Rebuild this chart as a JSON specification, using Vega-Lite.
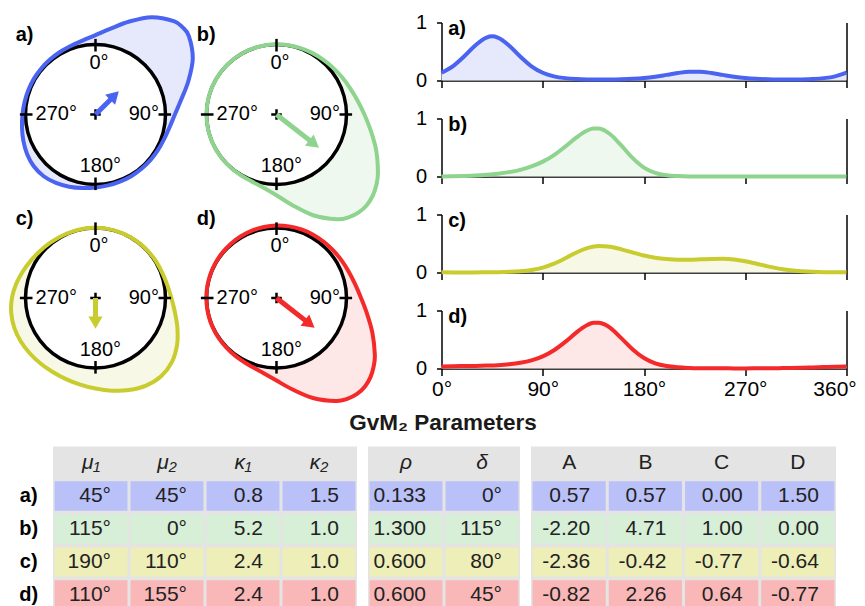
{
"$schema": "https://vega.github.io/schema/vega-lite/v6.json",
"background": "white",
"padding": {"left": 3, "top": 8.5, "right": 0, "bottom": 0},
"config": {
  "font": "Liberation Sans",
  "view": {"stroke": null},
  "axis": {"grid": false, "domainColor": "black", "tickColor": "black", "labelColor": "black", "labelFont": "Liberation Sans", "labelFlush": false}
},
"datasets": {
  "curves": [
    {"p":"a","t":0,"f":0.134,"x":0,"y":1.134},{"p":"a","t":10,"f":0.245,"x":0.216,"y":1.226},{"p":"a","t":20,"f":0.413,"x":0.483,"y":1.328},{"p":"a","t":30,"f":0.605,"x":0.803,"y":1.39},{"p":"a","t":40,"f":0.741,"x":1.119,"y":1.334},{"p":"a","t":45,"f":0.761,"x":1.245,"y":1.245},{"p":"a","t":50,"f":0.741,"x":1.334,"y":1.119},{"p":"a","t":60,"f":0.605,"x":1.39,"y":0.803},{"p":"a","t":70,"f":0.413,"x":1.328,"y":0.483},{"p":"a","t":80,"f":0.245,"x":1.226,"y":0.216},{"p":"a","t":90,"f":0.134,"x":1.134,"y":0},{"p":"a","t":100,"f":0.072,"x":1.056,"y":-0.186},{"p":"a","t":110,"f":0.041,"x":0.978,"y":-0.356},{"p":"a","t":120,"f":0.026,"x":0.889,"y":-0.513},{"p":"a","t":130,"f":0.019,"x":0.781,"y":-0.655},{"p":"a","t":140,"f":0.016,"x":0.653,"y":-0.778},{"p":"a","t":150,"f":0.017,"x":0.509,"y":-0.881},{"p":"a","t":160,"f":0.021,"x":0.349,"y":-0.959},{"p":"a","t":170,"f":0.029,"x":0.179,"y":-1.013},{"p":"a","t":180,"f":0.043,"x":0,"y":-1.043},{"p":"a","t":190,"f":0.066,"x":-0.185,"y":-1.05},{"p":"a","t":200,"f":0.097,"x":-0.375,"y":-1.031},{"p":"a","t":210,"f":0.129,"x":-0.565,"y":-0.978},{"p":"a","t":220,"f":0.151,"x":-0.74,"y":-0.882},{"p":"a","t":230,"f":0.151,"x":-0.882,"y":-0.74},{"p":"a","t":240,"f":0.129,"x":-0.978,"y":-0.565},{"p":"a","t":250,"f":0.097,"x":-1.031,"y":-0.375},{"p":"a","t":260,"f":0.066,"x":-1.05,"y":-0.185},{"p":"a","t":270,"f":0.043,"x":-1.043,"y":0},{"p":"a","t":280,"f":0.029,"x":-1.013,"y":0.179},{"p":"a","t":290,"f":0.021,"x":-0.959,"y":0.349},{"p":"a","t":300,"f":0.017,"x":-0.881,"y":0.509},{"p":"a","t":310,"f":0.016,"x":-0.778,"y":0.653},{"p":"a","t":320,"f":0.019,"x":-0.655,"y":0.781},{"p":"a","t":330,"f":0.026,"x":-0.513,"y":0.889},{"p":"a","t":340,"f":0.041,"x":-0.356,"y":0.978},{"p":"a","t":350,"f":0.072,"x":-0.186,"y":1.056},{"p":"a","t":360,"f":0.134,"x":0,"y":1.134},
    {"p":"b","t":0,"f":0.002,"x":0,"y":1.002},{"p":"b","t":10,"f":0.004,"x":0.174,"y":0.989},{"p":"b","t":20,"f":0.009,"x":0.345,"y":0.948},{"p":"b","t":30,"f":0.016,"x":0.508,"y":0.88},{"p":"b","t":40,"f":0.029,"x":0.661,"y":0.788},{"p":"b","t":50,"f":0.047,"x":0.802,"y":0.673},{"p":"b","t":60,"f":0.075,"x":0.931,"y":0.538},{"p":"b","t":70,"f":0.115,"x":1.048,"y":0.381},{"p":"b","t":80,"f":0.173,"x":1.155,"y":0.204},{"p":"b","t":90,"f":0.256,"x":1.256,"y":0},{"p":"b","t":100,"f":0.37,"x":1.349,"y":-0.238},{"p":"b","t":110,"f":0.516,"x":1.425,"y":-0.518},{"p":"b","t":120,"f":0.673,"x":1.449,"y":-0.837},{"p":"b","t":125,"f":0.743,"x":1.428,"y":-1.0},{"p":"b","t":130,"f":0.797,"x":1.377,"y":-1.155},{"p":"b","t":135,"f":0.827,"x":1.292,"y":-1.292},{"p":"b","t":140,"f":0.827,"x":1.174,"y":-1.399},{"p":"b","t":145,"f":0.794,"x":1.029,"y":-1.47},{"p":"b","t":150,"f":0.729,"x":0.865,"y":-1.497},{"p":"b","t":160,"f":0.531,"x":0.524,"y":-1.439},{"p":"b","t":170,"f":0.316,"x":0.228,"y":-1.296},{"p":"b","t":180,"f":0.153,"x":0,"y":-1.153},{"p":"b","t":190,"f":0.061,"x":-0.184,"y":-1.045},{"p":"b","t":200,"f":0.021,"x":-0.349,"y":-0.959},{"p":"b","t":210,"f":0.007,"x":-0.504,"y":-0.872},{"p":"b","t":220,"f":0.002,"x":-0.644,"y":-0.768},{"p":"b","t":230,"f":0.001,"x":-0.766,"y":-0.643},{"p":"b","t":240,"f":0,"x":-0.866,"y":-0.5},{"p":"b","t":250,"f":0,"x":-0.94,"y":-0.342},{"p":"b","t":260,"f":0,"x":-0.985,"y":-0.174},{"p":"b","t":270,"f":0,"x":-1,"y":0},{"p":"b","t":280,"f":0,"x":-0.985,"y":0.174},{"p":"b","t":290,"f":0,"x":-0.94,"y":0.342},{"p":"b","t":300,"f":0,"x":-0.866,"y":0.5},{"p":"b","t":310,"f":0,"x":-0.766,"y":0.643},{"p":"b","t":320,"f":0,"x":-0.643,"y":0.766},{"p":"b","t":330,"f":0,"x":-0.5,"y":0.866},{"p":"b","t":340,"f":0,"x":-0.342,"y":0.94},{"p":"b","t":350,"f":0.001,"x":-0.174,"y":0.986},{"p":"b","t":360,"f":0.002,"x":0,"y":1.002},
    {"p":"c","t":0,"f":0.003,"x":0,"y":1.003},{"p":"c","t":10,"f":0.002,"x":0.174,"y":0.987},{"p":"c","t":20,"f":0.002,"x":0.343,"y":0.942},{"p":"c","t":30,"f":0.002,"x":0.501,"y":0.868},{"p":"c","t":40,"f":0.004,"x":0.645,"y":0.769},{"p":"c","t":50,"f":0.006,"x":0.771,"y":0.647},{"p":"c","t":60,"f":0.011,"x":0.876,"y":0.506},{"p":"c","t":70,"f":0.021,"x":0.959,"y":0.349},{"p":"c","t":80,"f":0.043,"x":1.027,"y":0.181},{"p":"c","t":90,"f":0.084,"x":1.084,"y":0},{"p":"c","t":100,"f":0.152,"x":1.134,"y":-0.2},{"p":"c","t":110,"f":0.245,"x":1.17,"y":-0.426},{"p":"c","t":120,"f":0.345,"x":1.165,"y":-0.673},{"p":"c","t":130,"f":0.424,"x":1.091,"y":-0.915},{"p":"c","t":140,"f":0.458,"x":0.937,"y":-1.117},{"p":"c","t":150,"f":0.444,"x":0.722,"y":-1.251},{"p":"c","t":160,"f":0.399,"x":0.478,"y":-1.315},{"p":"c","t":170,"f":0.344,"x":0.233,"y":-1.324},{"p":"c","t":180,"f":0.294,"x":0,"y":-1.294},{"p":"c","t":190,"f":0.256,"x":-0.218,"y":-1.237},{"p":"c","t":200,"f":0.232,"x":-0.421,"y":-1.158},{"p":"c","t":210,"f":0.221,"x":-0.611,"y":-1.057},{"p":"c","t":220,"f":0.221,"x":-0.785,"y":-0.935},{"p":"c","t":230,"f":0.227,"x":-0.94,"y":-0.789},{"p":"c","t":240,"f":0.234,"x":-1.069,"y":-0.617},{"p":"c","t":250,"f":0.235,"x":-1.161,"y":-0.422},{"p":"c","t":260,"f":0.223,"x":-1.204,"y":-0.212},{"p":"c","t":270,"f":0.194,"x":-1.194,"y":0},{"p":"c","t":280,"f":0.152,"x":-1.134,"y":0.2},{"p":"c","t":290,"f":0.106,"x":-1.039,"y":0.378},{"p":"c","t":300,"f":0.067,"x":-0.924,"y":0.534},{"p":"c","t":310,"f":0.039,"x":-0.796,"y":0.668},{"p":"c","t":320,"f":0.021,"x":-0.656,"y":0.782},{"p":"c","t":330,"f":0.011,"x":-0.506,"y":0.876},{"p":"c","t":340,"f":0.006,"x":-0.344,"y":0.945},{"p":"c","t":350,"f":0.004,"x":-0.174,"y":0.989},{"p":"c","t":360,"f":0.003,"x":0,"y":1.003},
    {"p":"d","t":0,"f":0.035,"x":0,"y":1.035},{"p":"d","t":10,"f":0.039,"x":0.18,"y":1.023},{"p":"d","t":20,"f":0.042,"x":0.356,"y":0.979},{"p":"d","t":30,"f":0.045,"x":0.523,"y":0.905},{"p":"d","t":40,"f":0.05,"x":0.675,"y":0.804},{"p":"d","t":50,"f":0.058,"x":0.81,"y":0.68},{"p":"d","t":60,"f":0.073,"x":0.929,"y":0.537},{"p":"d","t":70,"f":0.098,"x":1.032,"y":0.376},{"p":"d","t":80,"f":0.14,"x":1.123,"y":0.198},{"p":"d","t":90,"f":0.208,"x":1.208,"y":0},{"p":"d","t":100,"f":0.314,"x":1.294,"y":-0.228},{"p":"d","t":110,"f":0.458,"x":1.37,"y":-0.499},{"p":"d","t":120,"f":0.622,"x":1.405,"y":-0.811},{"p":"d","t":125,"f":0.696,"x":1.389,"y":-0.973},{"p":"d","t":130,"f":0.754,"x":1.344,"y":-1.127},{"p":"d","t":135,"f":0.787,"x":1.264,"y":-1.264},{"p":"d","t":140,"f":0.79,"x":1.151,"y":-1.371},{"p":"d","t":145,"f":0.76,"x":1.01,"y":-1.442},{"p":"d","t":150,"f":0.7,"x":0.85,"y":-1.472},{"p":"d","t":160,"f":0.52,"x":0.52,"y":-1.428},{"p":"d","t":170,"f":0.328,"x":0.231,"y":-1.308},{"p":"d","t":180,"f":0.18,"x":0,"y":-1.18},{"p":"d","t":190,"f":0.089,"x":-0.189,"y":-1.072},{"p":"d","t":200,"f":0.042,"x":-0.356,"y":-0.979},{"p":"d","t":210,"f":0.02,"x":-0.51,"y":-0.883},{"p":"d","t":220,"f":0.01,"x":-0.649,"y":-0.774},{"p":"d","t":230,"f":0.005,"x":-0.77,"y":-0.646},{"p":"d","t":240,"f":0.003,"x":-0.869,"y":-0.502},{"p":"d","t":250,"f":0.003,"x":-0.943,"y":-0.343},{"p":"d","t":260,"f":0.002,"x":-0.987,"y":-0.174},{"p":"d","t":270,"f":0.002,"x":-1.002,"y":0},{"p":"d","t":280,"f":0.003,"x":-0.988,"y":0.174},{"p":"d","t":290,"f":0.004,"x":-0.943,"y":0.343},{"p":"d","t":300,"f":0.006,"x":-0.871,"y":0.503},{"p":"d","t":310,"f":0.008,"x":-0.772,"y":0.648},{"p":"d","t":320,"f":0.012,"x":-0.651,"y":0.775},{"p":"d","t":330,"f":0.018,"x":-0.509,"y":0.882},{"p":"d","t":340,"f":0.024,"x":-0.35,"y":0.962},{"p":"d","t":350,"f":0.03,"x":-0.179,"y":1.014},{"p":"d","t":360,"f":0.035,"x":0,"y":1.035}
  ],
  "circle": [
    {"t":0,"x":0,"y":1},{"t":15,"x":0.2588,"y":0.9659},{"t":30,"x":0.5,"y":0.866},{"t":45,"x":0.7071,"y":0.7071},{"t":60,"x":0.866,"y":0.5},{"t":75,"x":0.9659,"y":0.2588},{"t":90,"x":1,"y":0},{"t":105,"x":0.9659,"y":-0.2588},{"t":120,"x":0.866,"y":-0.5},{"t":135,"x":0.7071,"y":-0.7071},{"t":150,"x":0.5,"y":-0.866},{"t":165,"x":0.2588,"y":-0.9659},{"t":180,"x":0,"y":-1},{"t":195,"x":-0.2588,"y":-0.9659},{"t":210,"x":-0.5,"y":-0.866},{"t":225,"x":-0.7071,"y":-0.7071},{"t":240,"x":-0.866,"y":-0.5},{"t":255,"x":-0.9659,"y":-0.2588},{"t":270,"x":-1,"y":0},{"t":285,"x":-0.9659,"y":0.2588},{"t":300,"x":-0.866,"y":0.5},{"t":315,"x":-0.7071,"y":0.7071},{"t":330,"x":-0.5,"y":0.866},{"t":345,"x":-0.2588,"y":0.9659}
  ],
  "ticks": [
    {"x":0,"y":0.9,"x2":0,"y2":1.08},{"x":0.9,"y":0,"x2":1.08,"y2":0},{"x":0,"y":-0.9,"x2":0,"y2":-1.08},{"x":-0.9,"y":0,"x2":-1.08,"y2":0},{"x":-0.075,"y":0,"x2":0.075,"y2":0},{"x":0,"y":-0.075,"x2":0,"y2":0.075}
  ],
  "plabs": [
    {"txt":"0°","x":0.05,"y":0.74},{"txt":"90°","x":0.69,"y":0},{"txt":"180°","x":0.07,"y":-0.74},{"txt":"270°","x":-0.56,"y":0}
  ],
  "panels": [
    {"p":"a","lab":"a)","dir":45,"x0":0,"y0":0,"x2":0.262,"y2":0.262,"hx":0.271,"hy":0.271},
    {"p":"b","lab":"b)","dir":128,"x0":0,"y0":0,"x2":0.528,"y2":-0.413,"hx":0.538,"hy":-0.421},
    {"p":"c","lab":"c)","dir":180,"x0":0,"y0":0,"x2":0,"y2":-0.34,"hx":0,"hy":-0.353},
    {"p":"d","lab":"d)","dir":128,"x0":0,"y0":0,"x2":0.465,"y2":-0.363,"hx":0.475,"hy":-0.371}
  ],
  "rowlabs": [{"row":"a","lab":"a)"},{"row":"b","lab":"b)"},{"row":"c","lab":"c)"},{"row":"d","lab":"d)"}],
  "tbl": [
    {"g":1,"row":"h","col":"m1","v":"μ₁"},{"g":1,"row":"h","col":"m2","v":"μ₂"},{"g":1,"row":"h","col":"k1","v":"κ₁"},{"g":1,"row":"h","col":"k2","v":"κ₂"},
    {"g":1,"row":"a","col":"m1","v":"45°"},{"g":1,"row":"a","col":"m2","v":"45°"},{"g":1,"row":"a","col":"k1","v":"0.8"},{"g":1,"row":"a","col":"k2","v":"1.5"},
    {"g":1,"row":"b","col":"m1","v":"115°"},{"g":1,"row":"b","col":"m2","v":"0°"},{"g":1,"row":"b","col":"k1","v":"5.2"},{"g":1,"row":"b","col":"k2","v":"1.0"},
    {"g":1,"row":"c","col":"m1","v":"190°"},{"g":1,"row":"c","col":"m2","v":"110°"},{"g":1,"row":"c","col":"k1","v":"2.4"},{"g":1,"row":"c","col":"k2","v":"1.0"},
    {"g":1,"row":"d","col":"m1","v":"110°"},{"g":1,"row":"d","col":"m2","v":"155°"},{"g":1,"row":"d","col":"k1","v":"2.4"},{"g":1,"row":"d","col":"k2","v":"1.0"},
    {"g":2,"row":"h","col":"rho","v":"ρ"},{"g":2,"row":"h","col":"del","v":"δ"},
    {"g":2,"row":"a","col":"rho","v":"0.133"},{"g":2,"row":"a","col":"del","v":"0°"},
    {"g":2,"row":"b","col":"rho","v":"1.300"},{"g":2,"row":"b","col":"del","v":"115°"},
    {"g":2,"row":"c","col":"rho","v":"0.600"},{"g":2,"row":"c","col":"del","v":"80°"},
    {"g":2,"row":"d","col":"rho","v":"0.600"},{"g":2,"row":"d","col":"del","v":"45°"},
    {"g":3,"row":"h","col":"A","v":"A"},{"g":3,"row":"h","col":"B","v":"B"},{"g":3,"row":"h","col":"C","v":"C"},{"g":3,"row":"h","col":"D","v":"D"},
    {"g":3,"row":"a","col":"A","v":"0.57"},{"g":3,"row":"a","col":"B","v":"0.57"},{"g":3,"row":"a","col":"C","v":"0.00"},{"g":3,"row":"a","col":"D","v":"1.50"},
    {"g":3,"row":"b","col":"A","v":"-2.20"},{"g":3,"row":"b","col":"B","v":"4.71"},{"g":3,"row":"b","col":"C","v":"1.00"},{"g":3,"row":"b","col":"D","v":"0.00"},
    {"g":3,"row":"c","col":"A","v":"-2.36"},{"g":3,"row":"c","col":"B","v":"-0.42"},{"g":3,"row":"c","col":"C","v":"-0.77"},{"g":3,"row":"c","col":"D","v":"-0.64"},
    {"g":3,"row":"d","col":"A","v":"-0.82"},{"g":3,"row":"d","col":"B","v":"2.26"},{"g":3,"row":"d","col":"C","v":"0.64"},{"g":3,"row":"d","col":"D","v":"-0.77"}
  ]
},
"vconcat": [
  {
    "hconcat": [
      {
        "concat": [
          {"width":175,"height":179.5,"layer":[
            {"data":{"name":"curves"},"transform":[{"filter":"datum.p=='a' && datum.t<360"}],"mark":{"type":"line","interpolate":"cardinal-closed","fill":"#e6e9fb","strokeOpacity":0},"encoding":{"x":{"field":"x","type":"quantitative","scale":{"domain":[-1.25,1.25],"nice":false,"zero":false},"axis":null},"y":{"field":"y","type":"quantitative","scale":{"domain":[-1.25,1.314],"nice":false,"zero":false},"axis":null},"order":{"field":"t","type":"quantitative"}}},
            {"data":{"name":"circle"},"mark":{"type":"line","interpolate":"cardinal-closed","fill":"white","stroke":"black","strokeWidth":3.5},"encoding":{"x":{"field":"x","type":"quantitative"},"y":{"field":"y","type":"quantitative"},"order":{"field":"t","type":"quantitative"}}},
            {"data":{"name":"curves"},"transform":[{"filter":"datum.p=='a' && datum.t<360"}],"mark":{"type":"line","interpolate":"cardinal-closed","stroke":"#4a63f0","strokeWidth":4},"encoding":{"x":{"field":"x","type":"quantitative"},"y":{"field":"y","type":"quantitative"},"order":{"field":"t","type":"quantitative"}}},
            {"data":{"name":"ticks"},"mark":{"type":"rule","color":"black","strokeWidth":2.5},"encoding":{"x":{"field":"x","type":"quantitative"},"y":{"field":"y","type":"quantitative"},"x2":{"field":"x2"},"y2":{"field":"y2"}}},
            {"data":{"name":"plabs"},"mark":{"type":"text","fontSize":20,"color":"black"},"encoding":{"x":{"field":"x","type":"quantitative"},"y":{"field":"y","type":"quantitative"},"text":{"field":"txt"}}},
            {"data":{"name":"panels"},"transform":[{"filter":"datum.p=='a'"}],"mark":{"type":"rule","color":"#4a63f0","strokeWidth":5},"encoding":{"x":{"field":"x0","type":"quantitative"},"y":{"field":"y0","type":"quantitative"},"x2":{"field":"x2"},"y2":{"field":"y2"}}},
            {"data":{"name":"panels"},"transform":[{"filter":"datum.p=='a'"}],"mark":{"type":"point","shape":"triangle-up","filled":true,"size":200,"color":"#4a63f0","opacity":1},"encoding":{"x":{"field":"hx","type":"quantitative"},"y":{"field":"hy","type":"quantitative"},"angle":{"field":"dir","type":"quantitative","scale":null}}},
            {"data":{"name":"panels"},"transform":[{"filter":"datum.p=='a'"}],"mark":{"type":"text","fontSize":20,"fontWeight":"bold","align":"left","color":"black"},"encoding":{"x":{"datum":-1.14,"type":"quantitative"},"y":{"datum":1.13,"type":"quantitative"},"text":{"field":"lab"}}}
          ]},
          {"width":175,"height":179.5,"layer":[
            {"data":{"name":"curves"},"transform":[{"filter":"datum.p=='b' && datum.t<360"}],"mark":{"type":"line","interpolate":"cardinal-closed","fill":"#eff8ef","strokeOpacity":0},"encoding":{"x":{"field":"x","type":"quantitative","scale":{"domain":[-1.25,1.25],"nice":false,"zero":false},"axis":null},"y":{"field":"y","type":"quantitative","scale":{"domain":[-1.25,1.314],"nice":false,"zero":false},"axis":null},"order":{"field":"t","type":"quantitative"}}},
            {"data":{"name":"circle"},"mark":{"type":"line","interpolate":"cardinal-closed","fill":"white","stroke":"black","strokeWidth":3.5},"encoding":{"x":{"field":"x","type":"quantitative"},"y":{"field":"y","type":"quantitative"},"order":{"field":"t","type":"quantitative"}}},
            {"data":{"name":"curves"},"transform":[{"filter":"datum.p=='b' && datum.t<360"}],"mark":{"type":"line","interpolate":"cardinal-closed","stroke":"#8ed48e","strokeWidth":4},"encoding":{"x":{"field":"x","type":"quantitative"},"y":{"field":"y","type":"quantitative"},"order":{"field":"t","type":"quantitative"}}},
            {"data":{"name":"ticks"},"mark":{"type":"rule","color":"black","strokeWidth":2.5},"encoding":{"x":{"field":"x","type":"quantitative"},"y":{"field":"y","type":"quantitative"},"x2":{"field":"x2"},"y2":{"field":"y2"}}},
            {"data":{"name":"plabs"},"mark":{"type":"text","fontSize":20,"color":"black"},"encoding":{"x":{"field":"x","type":"quantitative"},"y":{"field":"y","type":"quantitative"},"text":{"field":"txt"}}},
            {"data":{"name":"panels"},"transform":[{"filter":"datum.p=='b'"}],"mark":{"type":"rule","color":"#8ed48e","strokeWidth":5},"encoding":{"x":{"field":"x0","type":"quantitative"},"y":{"field":"y0","type":"quantitative"},"x2":{"field":"x2"},"y2":{"field":"y2"}}},
            {"data":{"name":"panels"},"transform":[{"filter":"datum.p=='b'"}],"mark":{"type":"point","shape":"triangle-up","filled":true,"size":200,"color":"#8ed48e","opacity":1},"encoding":{"x":{"field":"hx","type":"quantitative"},"y":{"field":"hy","type":"quantitative"},"angle":{"field":"dir","type":"quantitative","scale":null}}},
            {"data":{"name":"panels"},"transform":[{"filter":"datum.p=='b'"}],"mark":{"type":"text","fontSize":20,"fontWeight":"bold","align":"left","color":"black"},"encoding":{"x":{"datum":-1.14,"type":"quantitative"},"y":{"datum":1.13,"type":"quantitative"},"text":{"field":"lab"}}}
          ]},
          {"width":175,"height":179.5,"layer":[
            {"data":{"name":"curves"},"transform":[{"filter":"datum.p=='c' && datum.t<360"}],"mark":{"type":"line","interpolate":"cardinal-closed","fill":"#f7f8e6","strokeOpacity":0},"encoding":{"x":{"field":"x","type":"quantitative","scale":{"domain":[-1.25,1.25],"nice":false,"zero":false},"axis":null},"y":{"field":"y","type":"quantitative","scale":{"domain":[-1.25,1.314],"nice":false,"zero":false},"axis":null},"order":{"field":"t","type":"quantitative"}}},
            {"data":{"name":"circle"},"mark":{"type":"line","interpolate":"cardinal-closed","fill":"white","stroke":"black","strokeWidth":3.5},"encoding":{"x":{"field":"x","type":"quantitative"},"y":{"field":"y","type":"quantitative"},"order":{"field":"t","type":"quantitative"}}},
            {"data":{"name":"curves"},"transform":[{"filter":"datum.p=='c' && datum.t<360"}],"mark":{"type":"line","interpolate":"cardinal-closed","stroke":"#c8cc2e","strokeWidth":4},"encoding":{"x":{"field":"x","type":"quantitative"},"y":{"field":"y","type":"quantitative"},"order":{"field":"t","type":"quantitative"}}},
            {"data":{"name":"ticks"},"mark":{"type":"rule","color":"black","strokeWidth":2.5},"encoding":{"x":{"field":"x","type":"quantitative"},"y":{"field":"y","type":"quantitative"},"x2":{"field":"x2"},"y2":{"field":"y2"}}},
            {"data":{"name":"plabs"},"mark":{"type":"text","fontSize":20,"color":"black"},"encoding":{"x":{"field":"x","type":"quantitative"},"y":{"field":"y","type":"quantitative"},"text":{"field":"txt"}}},
            {"data":{"name":"panels"},"transform":[{"filter":"datum.p=='c'"}],"mark":{"type":"rule","color":"#c8cc2e","strokeWidth":5},"encoding":{"x":{"field":"x0","type":"quantitative"},"y":{"field":"y0","type":"quantitative"},"x2":{"field":"x2"},"y2":{"field":"y2"}}},
            {"data":{"name":"panels"},"transform":[{"filter":"datum.p=='c'"}],"mark":{"type":"point","shape":"triangle-up","filled":true,"size":200,"color":"#c8cc2e","opacity":1},"encoding":{"x":{"field":"hx","type":"quantitative"},"y":{"field":"hy","type":"quantitative"},"angle":{"field":"dir","type":"quantitative","scale":null}}},
            {"data":{"name":"panels"},"transform":[{"filter":"datum.p=='c'"}],"mark":{"type":"text","fontSize":20,"fontWeight":"bold","align":"left","color":"black"},"encoding":{"x":{"datum":-1.14,"type":"quantitative"},"y":{"datum":1.13,"type":"quantitative"},"text":{"field":"lab"}}}
          ]},
          {"width":175,"height":179.5,"layer":[
            {"data":{"name":"curves"},"transform":[{"filter":"datum.p=='d' && datum.t<360"}],"mark":{"type":"line","interpolate":"cardinal-closed","fill":"#fde7e7","strokeOpacity":0},"encoding":{"x":{"field":"x","type":"quantitative","scale":{"domain":[-1.25,1.25],"nice":false,"zero":false},"axis":null},"y":{"field":"y","type":"quantitative","scale":{"domain":[-1.25,1.314],"nice":false,"zero":false},"axis":null},"order":{"field":"t","type":"quantitative"}}},
            {"data":{"name":"circle"},"mark":{"type":"line","interpolate":"cardinal-closed","fill":"white","stroke":"black","strokeWidth":3.5},"encoding":{"x":{"field":"x","type":"quantitative"},"y":{"field":"y","type":"quantitative"},"order":{"field":"t","type":"quantitative"}}},
            {"data":{"name":"curves"},"transform":[{"filter":"datum.p=='d' && datum.t<360"}],"mark":{"type":"line","interpolate":"cardinal-closed","stroke":"#f42a2a","strokeWidth":4},"encoding":{"x":{"field":"x","type":"quantitative"},"y":{"field":"y","type":"quantitative"},"order":{"field":"t","type":"quantitative"}}},
            {"data":{"name":"ticks"},"mark":{"type":"rule","color":"black","strokeWidth":2.5},"encoding":{"x":{"field":"x","type":"quantitative"},"y":{"field":"y","type":"quantitative"},"x2":{"field":"x2"},"y2":{"field":"y2"}}},
            {"data":{"name":"plabs"},"mark":{"type":"text","fontSize":20,"color":"black"},"encoding":{"x":{"field":"x","type":"quantitative"},"y":{"field":"y","type":"quantitative"},"text":{"field":"txt"}}},
            {"data":{"name":"panels"},"transform":[{"filter":"datum.p=='d'"}],"mark":{"type":"rule","color":"#f42a2a","strokeWidth":5},"encoding":{"x":{"field":"x0","type":"quantitative"},"y":{"field":"y0","type":"quantitative"},"x2":{"field":"x2"},"y2":{"field":"y2"}}},
            {"data":{"name":"panels"},"transform":[{"filter":"datum.p=='d'"}],"mark":{"type":"point","shape":"triangle-up","filled":true,"size":200,"color":"#f42a2a","opacity":1},"encoding":{"x":{"field":"hx","type":"quantitative"},"y":{"field":"hy","type":"quantitative"},"angle":{"field":"dir","type":"quantitative","scale":null}}},
            {"data":{"name":"panels"},"transform":[{"filter":"datum.p=='d'"}],"mark":{"type":"text","fontSize":20,"fontWeight":"bold","align":"left","color":"black"},"encoding":{"x":{"datum":-1.14,"type":"quantitative"},"y":{"datum":1.13,"type":"quantitative"},"text":{"field":"lab"}}}
          ]}
        ],
        "columns": 2,
        "spacing": {"row": 3.5, "column": 6},
        "bounds": "flush"
      },
      {
        "vconcat": [
          {"width":405,"height":58,"resolve":{"axis":{"y":"independent"}},"layer":[
            {"data":{"name":"curves"},"transform":[{"filter":"datum.p=='a'"}],"mark":{"type":"area","interpolate":"monotone","color":"#e6e9fb","opacity":1},"encoding":{"x":{"field":"t","type":"quantitative","scale":{"domain":[0,360],"nice":false},"axis":{"values":[0,90,180,270,360],"labels":false,"tickSize":7,"tickWidth":1.5,"domainWidth":1.5,"title":null}},"y":{"field":"f","type":"quantitative","scale":{"domain":[0,1],"nice":false},"axis":{"values":[0,1],"format":"d","tickSize":5,"tickWidth":1.5,"domainWidth":1.5,"labelFontSize":20,"labelPadding":10,"title":null}}}},
            {"data":{"name":"curves"},"transform":[{"filter":"datum.p=='a'"}],"mark":{"type":"line","interpolate":"monotone","color":"#4a63f0","strokeWidth":4},"encoding":{"x":{"field":"t","type":"quantitative"},"y":{"field":"f","type":"quantitative","axis":{"orient":"right","labels":false,"ticks":false,"domainWidth":1.5,"title":null}}}},
            {"data":{"name":"panels"},"transform":[{"filter":"datum.p=='a'"}],"mark":{"type":"text","fontSize":20,"fontWeight":"bold","align":"left","color":"black"},"encoding":{"x":{"datum":6,"type":"quantitative"},"y":{"datum":0.88,"type":"quantitative","axis":null},"text":{"field":"lab"}}}
          ]},
          {"width":405,"height":58,"resolve":{"axis":{"y":"independent"}},"layer":[
            {"data":{"name":"curves"},"transform":[{"filter":"datum.p=='b'"}],"mark":{"type":"area","interpolate":"monotone","color":"#eff8ef","opacity":1},"encoding":{"x":{"field":"t","type":"quantitative","scale":{"domain":[0,360],"nice":false},"axis":{"values":[0,90,180,270,360],"labels":false,"tickSize":7,"tickWidth":1.5,"domainWidth":1.5,"title":null}},"y":{"field":"f","type":"quantitative","scale":{"domain":[0,1],"nice":false},"axis":{"values":[0,1],"format":"d","tickSize":5,"tickWidth":1.5,"domainWidth":1.5,"labelFontSize":20,"labelPadding":10,"title":null}}}},
            {"data":{"name":"curves"},"transform":[{"filter":"datum.p=='b'"}],"mark":{"type":"line","interpolate":"monotone","color":"#8ed48e","strokeWidth":4},"encoding":{"x":{"field":"t","type":"quantitative"},"y":{"field":"f","type":"quantitative","axis":{"orient":"right","labels":false,"ticks":false,"domainWidth":1.5,"title":null}}}},
            {"data":{"name":"panels"},"transform":[{"filter":"datum.p=='b'"}],"mark":{"type":"text","fontSize":20,"fontWeight":"bold","align":"left","color":"black"},"encoding":{"x":{"datum":6,"type":"quantitative"},"y":{"datum":0.88,"type":"quantitative","axis":null},"text":{"field":"lab"}}}
          ]},
          {"width":405,"height":58,"resolve":{"axis":{"y":"independent"}},"layer":[
            {"data":{"name":"curves"},"transform":[{"filter":"datum.p=='c'"}],"mark":{"type":"area","interpolate":"monotone","color":"#f7f8e6","opacity":1},"encoding":{"x":{"field":"t","type":"quantitative","scale":{"domain":[0,360],"nice":false},"axis":{"values":[0,90,180,270,360],"labels":false,"tickSize":7,"tickWidth":1.5,"domainWidth":1.5,"title":null}},"y":{"field":"f","type":"quantitative","scale":{"domain":[0,1],"nice":false},"axis":{"values":[0,1],"format":"d","tickSize":5,"tickWidth":1.5,"domainWidth":1.5,"labelFontSize":20,"labelPadding":10,"title":null}}}},
            {"data":{"name":"curves"},"transform":[{"filter":"datum.p=='c'"}],"mark":{"type":"line","interpolate":"monotone","color":"#c8cc2e","strokeWidth":4},"encoding":{"x":{"field":"t","type":"quantitative"},"y":{"field":"f","type":"quantitative","axis":{"orient":"right","labels":false,"ticks":false,"domainWidth":1.5,"title":null}}}},
            {"data":{"name":"panels"},"transform":[{"filter":"datum.p=='c'"}],"mark":{"type":"text","fontSize":20,"fontWeight":"bold","align":"left","color":"black"},"encoding":{"x":{"datum":6,"type":"quantitative"},"y":{"datum":0.88,"type":"quantitative","axis":null},"text":{"field":"lab"}}}
          ]},
          {"width":405,"height":58,"resolve":{"axis":{"y":"independent"}},"layer":[
            {"data":{"name":"curves"},"transform":[{"filter":"datum.p=='d'"}],"mark":{"type":"area","interpolate":"monotone","color":"#fde7e7","opacity":1},"encoding":{"x":{"field":"t","type":"quantitative","scale":{"domain":[0,360],"nice":false},"axis":{"values":[0,90,180,270,360],"labelExpr":"datum.value + '°'","labelFontSize":21,"labelPadding":3,"labelOffset":{"condition":{"test":"datum.value === 360","value":-12},"value":0},"tickSize":7,"tickWidth":1.5,"domainWidth":1.5,"title":null}},"y":{"field":"f","type":"quantitative","scale":{"domain":[0,1],"nice":false},"axis":{"values":[0,1],"format":"d","tickSize":5,"tickWidth":1.5,"domainWidth":1.5,"labelFontSize":20,"labelPadding":10,"title":null}}}},
            {"data":{"name":"curves"},"transform":[{"filter":"datum.p=='d'"}],"mark":{"type":"line","interpolate":"monotone","color":"#f42a2a","strokeWidth":4},"encoding":{"x":{"field":"t","type":"quantitative"},"y":{"field":"f","type":"quantitative","axis":{"orient":"right","labels":false,"ticks":false,"domainWidth":1.5,"title":null}}}},
            {"data":{"name":"panels"},"transform":[{"filter":"datum.p=='d'"}],"mark":{"type":"text","fontSize":20,"fontWeight":"bold","align":"left","color":"black"},"encoding":{"x":{"datum":6,"type":"quantitative"},"y":{"datum":0.88,"type":"quantitative","axis":null},"text":{"field":"lab"}}}
          ]}
        ],
        "spacing": 38,
        "bounds": "flush"
      }
    ],
    "spacing": 28.5
  },
  {
    "title": {"text": "GvM₂ Parameters", "fontSize": 22.5, "fontWeight": "bold", "anchor": "middle", "dx": 21, "offset": 12, "color": "#1a1a1a"},
    "hconcat": [
      {"width":33.5,"height":165,"data":{"name":"rowlabs"},"mark":{"type":"text","fontSize":20,"fontWeight":"bold","dx":4,"color":"black"},"encoding":{"y":{"field":"row","type":"nominal","scale":{"domain":["h","a","b","c","d"],"paddingInner":0.1,"paddingOuter":0.05},"axis":null},"text":{"field":"lab"}}},
      {"width":304,"height":165,"view":{"fill":"#e4e4e4","stroke":null},"data":{"name":"tbl"},"transform":[{"filter":"datum.g==1"}],
       "encoding":{"x":{"field":"col","type":"nominal","scale":{"domain":["m1","m2","k1","k2"],"paddingInner":0.04,"paddingOuter":0.02},"axis":null},"y":{"field":"row","type":"nominal","scale":{"domain":["h","a","b","c","d"],"paddingInner":0.1,"paddingOuter":0.05},"axis":null}},
       "layer":[
         {"transform":[{"filter":"datum.row!='h'"}],"mark":{"type":"rect"},"encoding":{"color":{"field":"row","type":"nominal","scale":{"domain":["a","b","c","d"],"range":["#b9c1f8","#d6efd6","#eeeeb8","#f9b7b7"]},"legend":null}}},
         {"transform":[{"filter":"datum.row=='h'"}],"mark":{"type":"text","fontSize":21,"fontStyle":"italic","color":"#222"},"encoding":{"text":{"field":"v"}}},
         {"transform":[{"filter":"datum.row!='h'"}],"mark":{"type":"text","fontSize":21,"align":"right","dx":20,"color":"#222"},"encoding":{"text":{"field":"v"}}}
       ]},
      {"width":152,"height":165,"view":{"fill":"#e4e4e4","stroke":null},"data":{"name":"tbl"},"transform":[{"filter":"datum.g==2"}],
       "encoding":{"x":{"field":"col","type":"nominal","scale":{"domain":["rho","del"],"paddingInner":0.04,"paddingOuter":0.02},"axis":null},"y":{"field":"row","type":"nominal","scale":{"domain":["h","a","b","c","d"],"paddingInner":0.1,"paddingOuter":0.05},"axis":null}},
       "layer":[
         {"transform":[{"filter":"datum.row!='h'"}],"mark":{"type":"rect"},"encoding":{"color":{"field":"row","type":"nominal","scale":{"domain":["a","b","c","d"],"range":["#b9c1f8","#d6efd6","#eeeeb8","#f9b7b7"]},"legend":null}}},
         {"transform":[{"filter":"datum.row=='h'"}],"mark":{"type":"text","fontSize":21,"fontStyle":"italic","color":"#222"},"encoding":{"text":{"field":"v"}}},
         {"transform":[{"filter":"datum.row!='h'"}],"mark":{"type":"text","fontSize":21,"align":"right","dx":20,"color":"#222"},"encoding":{"text":{"field":"v"}}}
       ]},
      {"width":305,"height":165,"view":{"fill":"#e4e4e4","stroke":null},"data":{"name":"tbl"},"transform":[{"filter":"datum.g==3"}],
       "encoding":{"x":{"field":"col","type":"nominal","scale":{"domain":["A","B","C","D"],"paddingInner":0.04,"paddingOuter":0.02},"axis":null},"y":{"field":"row","type":"nominal","scale":{"domain":["h","a","b","c","d"],"paddingInner":0.1,"paddingOuter":0.05},"axis":null}},
       "layer":[
         {"transform":[{"filter":"datum.row!='h'"}],"mark":{"type":"rect"},"encoding":{"color":{"field":"row","type":"nominal","scale":{"domain":["a","b","c","d"],"range":["#b9c1f8","#d6efd6","#eeeeb8","#f9b7b7"]},"legend":null}}},
         {"transform":[{"filter":"datum.row=='h'"}],"mark":{"type":"text","fontSize":21,"color":"#222"},"encoding":{"text":{"field":"v"}}},
         {"transform":[{"filter":"datum.row!='h'"}],"mark":{"type":"text","fontSize":21,"align":"right","dx":21,"color":"#222"},"encoding":{"text":{"field":"v"}}}
       ]}
    ],
    "spacing": 11,
    "bounds": "flush"
  }
],
"spacing": 2
}
